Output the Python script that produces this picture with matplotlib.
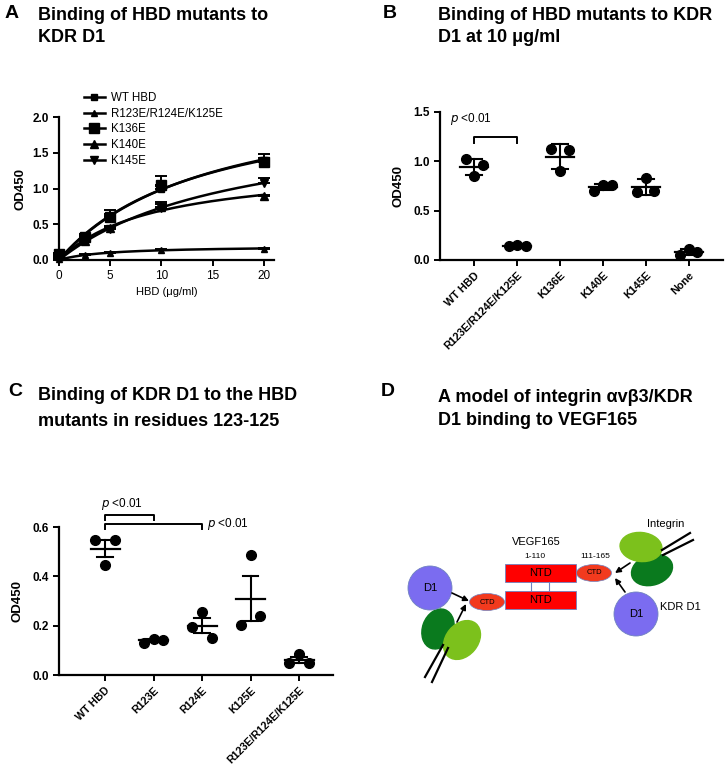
import numpy as np
import matplotlib
matplotlib.use("Agg")
import matplotlib.pyplot as plt
from matplotlib.patches import Circle, Ellipse, Rectangle

plt.rcParams['font.family'] = ['Liberation Sans', 'DejaVu Sans']

# ---------------- data ----------------
# panel A: dose response
hbd_conc = [0, 2.5, 5, 10, 20]
a_names = ["WT HBD", "R123E/R124E/K125E", "K136E", "K140E", "K145E"]
a_means = [
    [0.07, 0.33, 0.62, 1.00, 1.40],
    [0.02, 0.07, 0.10, 0.14, 0.16],
    [0.08, 0.32, 0.60, 1.05, 1.37],
    [0.05, 0.26, 0.45, 0.74, 0.89],
    [0.04, 0.28, 0.43, 0.73, 1.08],
]
a_err = [
    [0.02, 0.03, 0.08, 0.03, 0.08],
    [0.01, 0.01, 0.01, 0.01, 0.01],
    [0.02, 0.03, 0.05, 0.13, 0.05],
    [0.02, 0.03, 0.03, 0.05, 0.02],
    [0.02, 0.03, 0.03, 0.08, 0.07],
]
a_markers = ["s", "^", "s", "^", "v"]
a_msizes = [4.5, 4.5, 7, 6, 6]

# panel B: binding at 10 ug/ml (three replicates, left/mid/right)
b_cats = ["WT HBD", "R123E/R124E/K125E", "K136E", "K140E", "K145E", "None"]
b_vals = [
    [1.02, 0.855, 0.96],
    [0.14, 0.15, 0.14],
    [1.13, 0.905, 1.11],
    [0.70, 0.76, 0.76],
    [0.69, 0.83, 0.70],
    [0.05, 0.11, 0.08],
]

# panel C: KDR D1 binding to 123-125 mutants
c_cats = ["WT HBD", "R123E", "R124E", "K125E", "R123E/R124E/K125E"]
c_vals = [
    [0.546, 0.445, 0.546],
    [0.131, 0.147, 0.142],
    [0.195, 0.256, 0.148],
    [0.202, 0.488, 0.240],
    [0.047, 0.084, 0.047],
]

W, H = 726, 769
fig = plt.figure(figsize=(W / 100, H / 100), dpi=100)


def px(x, y):
    return x / W, 1 - y / H


def style(ax, bold_x=True):
    for s in ['top', 'right']:
        ax.spines[s].set_visible(False)
    for s in ['left', 'bottom']:
        ax.spines[s].set_linewidth(1.6)
    ax.tick_params(width=1.4, length=4, labelsize=8.5)
    for lab in ax.get_yticklabels():
        lab.set_fontweight('bold')
    if bold_x:
        for lab in ax.get_xticklabels():
            lab.set_fontweight('bold')
            lab.set_fontsize(7.8)


def scatter_group(ax, cats, vals, use_sem, half=0.33, cap=0.19):
    offs = [-0.2, 0.0, 0.2]
    for i, v in enumerate(vals):
        v = np.array(v)
        m = v.mean()
        e = v.std(ddof=1)
        if use_sem:
            e = e / np.sqrt(len(v))
        ax.plot([i + o for o in offs], v, 'o', color='black', ms=7, clip_on=False, zorder=3)
        ax.plot([i - half, i + half], [m, m], color='black', lw=1.6)
        ax.plot([i, i], [m - e, m + e], color='black', lw=1.5)
        for yy in (m - e, m + e):
            ax.plot([i - cap, i + cap], [yy, yy], color='black', lw=1.5)
    ax.set_xticks(range(len(cats)))
    ax.set_xticklabels(cats, rotation=45, ha='right', rotation_mode='anchor')


# ---------------- panel A ----------------
axA = fig.add_axes([59 / W, 1 - 260 / H, 215 / W, 143 / H])
xs = np.array(hbd_conc)
xf = np.linspace(0, 20, 200)
for name, m, e, mk, ms in zip(a_names, a_means, a_err, a_markers, a_msizes):
    m = np.array(m)
    # one-site binding fit  y = Bmax*x/(Kd+x)
    best = None
    for kd in np.linspace(0.5, 200, 4000):
        f = xs / (kd + xs)
        bmax = (m * f).sum() / (f * f).sum()
        sse = ((m - bmax * f) ** 2).sum()
        if best is None or sse < best[0]:
            best = (sse, kd, bmax)
    _, kd, bmax = best
    axA.plot(xf, bmax * xf / (kd + xf), color='black', lw=1.8)
    axA.errorbar(xs, m, yerr=[np.zeros_like(m), e], fmt=mk, color='black', ms=ms,
                 capsize=4, elinewidth=1.4, capthick=1.4, clip_on=False)
    axA.plot([], [], marker=mk, color='black', ms=ms, lw=1.8, label=name)
axA.set_xlim(0, 21)
axA.set_ylim(0, 2.0)
axA.set_xticks([0, 5, 10, 15, 20])
axA.set_yticks([0.0, 0.5, 1.0, 1.5, 2.0])
axA.yaxis.set_major_formatter(matplotlib.ticker.FormatStrFormatter('%.1f'))
axA.set_ylabel("OD450", fontsize=9.5, fontweight='bold', labelpad=4)
axA.set_xlabel("HBD (\u03bcg/ml)", fontsize=8, labelpad=3)
style(axA, bold_x=False)
axA.legend(loc='upper left', bbox_to_anchor=px(84, 92), bbox_transform=fig.transFigure,
           frameon=False, fontsize=8.3, handlelength=1.8, handletextpad=0.5,
           labelspacing=0.32, borderpad=0, borderaxespad=0)
fig.text(*px(5, 13), "A", fontsize=14, fontweight='bold', va='center')
fig.text(*px(38, 15), "Binding of HBD mutants to", fontsize=13, fontweight='bold', va='center')
fig.text(*px(38, 37), "KDR D1", fontsize=13, fontweight='bold', va='center')

# ---------------- panel B ----------------
axB = fig.add_axes([440 / W, 1 - 260 / H, 283 / W, 148 / H])
scatter_group(axB, b_cats, b_vals, use_sem=False)
axB.set_xlim(-0.8, 5.8)
axB.set_ylim(0, 1.5)
axB.set_yticks([0.0, 0.5, 1.0, 1.5])
axB.yaxis.set_major_formatter(matplotlib.ticker.FormatStrFormatter('%.1f'))
axB.set_ylabel("OD450", fontsize=9.5, fontweight='bold', labelpad=6)
style(axB)
axB.plot([0, 0, 1, 1], [1.185, 1.246, 1.246, 1.185], color='black', lw=1.4)
axB.text(-0.57, 1.43, "$\\it{p}$ <0.01", fontsize=8.5, va='center', ha='left')
fig.text(*px(383, 13), "B", fontsize=14, fontweight='bold', va='center')
fig.text(*px(438, 15), "Binding of HBD mutants to KDR", fontsize=13, fontweight='bold', va='center')
fig.text(*px(438, 37), "D1 at 10 \u03bcg/ml", fontsize=13, fontweight='bold', va='center')

# ---------------- panel C ----------------
axC = fig.add_axes([59 / W, 1 - 675 / H, 274 / W, 148 / H])
scatter_group(axC, c_cats, c_vals, use_sem=True, half=0.3, cap=0.16)
axC.set_xlim(-0.95, 4.7)
axC.set_ylim(0, 0.6)
axC.set_yticks([0.0, 0.2, 0.4, 0.6])
axC.yaxis.set_major_formatter(matplotlib.ticker.FormatStrFormatter('%.1f'))
axC.set_ylabel("OD450", fontsize=9.5, fontweight='bold', labelpad=6)
style(axC)
for lab in axC.get_xticklabels():
    lab.set_fontsize(7.7)
axC.plot([0, 0, 1, 1], [0.63, 0.647, 0.647, 0.63], color='black', lw=1.4, clip_on=False)
axC.plot([0, 0, 2, 2], [0.593, 0.611, 0.611, 0.593], color='black', lw=1.4, clip_on=False)
axC.text(0.35, 0.694, "$\\it{p}$ <0.01", fontsize=8.5, va='center', ha='center')
axC.text(2.1, 0.611, "$\\it{p}$ <0.01", fontsize=8.5, va='center', ha='left')
fig.text(*px(8, 392), "C", fontsize=14, fontweight='bold', va='center')
fig.text(*px(38, 395), "Binding of KDR D1 to the HBD", fontsize=13, fontweight='bold', va='center')
fig.text(*px(38, 421), "mutants in residues 123-125", fontsize=13, fontweight='bold', va='center')

# ---------------- panel D (schematic) ----------------
axD = fig.add_axes([363 / W, 0, 363 / W, 389 / H])
axD.set_xlim(363, 726)
axD.set_ylim(769, 380)
axD.axis('off')
fig.text(*px(381, 392), "D", fontsize=14, fontweight='bold', va='center')
fig.text(*px(438, 397), "A model of integrin \u03b1v\u03b23/KDR", fontsize=13, fontweight='bold', va='center')
fig.text(*px(438, 420), "D1 binding to VEGF165", fontsize=13, fontweight='bold', va='center')

purple = '#7b6cf0'
lgreen = '#7cc11c'
dgreen = '#0a7a1e'
red = '#ff0000'
ctd = '#f23a1e'
edge = '#6f82c0'

# integrin legs
for (x0, y0, x1, y1) in [(662, 550, 690, 533), (663, 555, 693, 540),
                         (425, 677, 443, 645), (432, 682, 448, 648)]:
    axD.plot([x0, x1], [y0, y1], color='black', lw=1.6)

axD.add_patch(Ellipse((652, 570), 42, 30, angle=-18, color=dgreen))
axD.add_patch(Ellipse((641, 547), 42, 29, angle=6, color=lgreen))
axD.add_patch(Ellipse((438, 629), 41, 31, angle=-70, color=dgreen))
axD.add_patch(Ellipse((462, 640), 43, 32, angle=-50, color=lgreen))

axD.add_patch(Circle((430, 588), 22, facecolor=purple, edgecolor=edge, lw=0.6))
axD.add_patch(Circle((636, 614), 22, facecolor=purple, edgecolor=edge, lw=0.6))
axD.text(430, 588, "D1", fontsize=8, ha='center', va='center')
axD.text(636, 614, "D1", fontsize=8, ha='center', va='center')

axD.plot([531, 531], [582, 591], color=edge, lw=0.8)
axD.plot([549, 549], [582, 591], color=edge, lw=0.8)
axD.add_patch(Rectangle((505, 564), 71, 18, facecolor=red, edgecolor=edge, lw=0.6))
axD.add_patch(Rectangle((505, 591), 71, 18, facecolor=red, edgecolor=edge, lw=0.6))
axD.text(540, 573, "NTD", fontsize=8, ha='center', va='center')
axD.text(540, 600, "NTD", fontsize=8, ha='center', va='center')

axD.add_patch(Ellipse((487, 602), 35, 17, facecolor=ctd, edgecolor=edge, lw=0.5))
axD.add_patch(Ellipse((594, 573), 35, 17, facecolor=ctd, edgecolor=edge, lw=0.5))
axD.text(487, 602, "CTD", fontsize=5.5, ha='center', va='center')
axD.text(594, 573, "CTD", fontsize=5.5, ha='center', va='center')

axD.text(536, 542, "VEGF165", fontsize=8, ha='center', va='center')
axD.text(535, 557, "1-110", fontsize=6, ha='center', va='center')
axD.text(595, 557, "111-165", fontsize=6, ha='center', va='center')
axD.text(666, 524, "Integrin", fontsize=8, ha='center', va='center')
axD.text(680, 607, "KDR D1", fontsize=8, ha='center', va='center')

for (x0, y0, x1, y1) in [(452, 593, 469, 601), (457, 622, 466, 604),
                         (630, 563, 615, 573), (625, 592, 615, 578)]:
    axD.annotate("", xy=(x1, y1), xytext=(x0, y0),
                 arrowprops=dict(arrowstyle='-|>', color='black', lw=1.2,
                                 mutation_scale=8, shrinkA=0, shrinkB=0))

fig.savefig("out.png", dpi=100)
